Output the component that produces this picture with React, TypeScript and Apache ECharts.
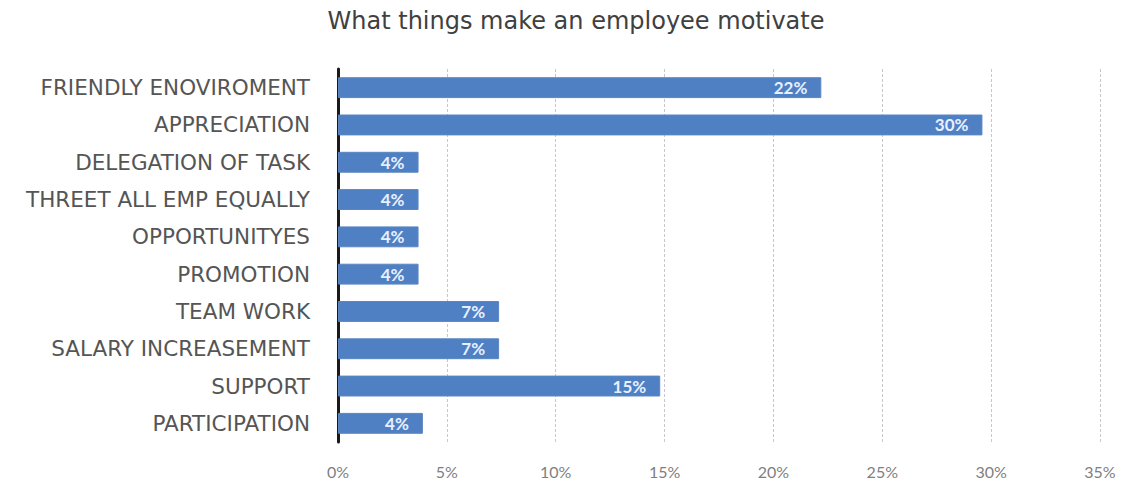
import React, { useEffect, useRef } from "react";
import * as echarts from "echarts";

const categories = [
  "FRIENDLY ENOVIROMENT",
  "APPRECIATION",
  "DELEGATION OF TASK",
  "THREET ALL EMP EQUALLY",
  "OPPORTUNITYES",
  "PROMOTION",
  "TEAM WORK",
  "SALARY INCREASEMENT",
  "SUPPORT",
  "PARTICIPATION",
];
const values = [22.2, 29.6, 3.7, 3.7, 3.7, 3.7, 7.4, 7.4, 14.8, 3.9];
const labels = ["22%", "30%", "4%", "4%", "4%", "4%", "7%", "7%", "15%", "4%"];
const title = "What things make an employee motivate";

export default function App() {
  const ref = useRef<HTMLDivElement>(null);
  useEffect(() => {
    const chart = echarts.init(ref.current!, null, { renderer: "svg" });
    chart.setOption({
      animation: false,
      backgroundColor: "#ffffff",
      title: {
        text: title,
        left: 571,
        textAlign: "center",
        top: 4,
        textStyle: { fontFamily: "DejaVu Sans", fontSize: 24, fontWeight: "normal", color: "#404040" },
      },
      grid: { left: 338, right: 28, top: 69, bottom: 41 },
      xAxis: {
        type: "value",
        min: 0,
        max: 35,
        interval: 5,
        axisLabel: {
          formatter: "{value}%",
          fontFamily: "Lato",
          fontSize: 16,
          color: "#7f7f7f",
          margin: 21,
        },
        axisLine: { show: false },
        axisTick: { show: false },
        splitLine: { show: true, lineStyle: { color: "#c8c8c8", type: [3, 2], width: 1 } },
      },
      yAxis: {
        type: "category",
        inverse: true,
        data: categories,
        axisLabel: {
          fontFamily: "DejaVu Sans",
          fontSize: 21.5,
          color: "#555555",
          margin: 28,
        },
        axisLine: { show: true, lineStyle: { color: "#1a1a1a", width: 3 } },
        axisTick: { show: false },
      },
      series: [
        {
          type: "bar",
          data: values,
          barWidth: "56%",
          itemStyle: { color: "#4f80c4", borderColor: "#5b86c0", borderWidth: 1 },
          label: {
            show: true,
            position: "insideRight",
            distance: 14,
            formatter: (p: any) => labels[p.dataIndex],
            color: "#e8f0ff",
            fontFamily: "Lato",
            fontWeight: "bold",
            fontSize: 17,
          },
        },
      ],
    });
    return () => chart.dispose();
  }, []);
  return (
    <div
      ref={ref}
      style={{ position: "absolute", left: 0, top: 0, width: 1128, height: 483 }}
    />
  );
}
